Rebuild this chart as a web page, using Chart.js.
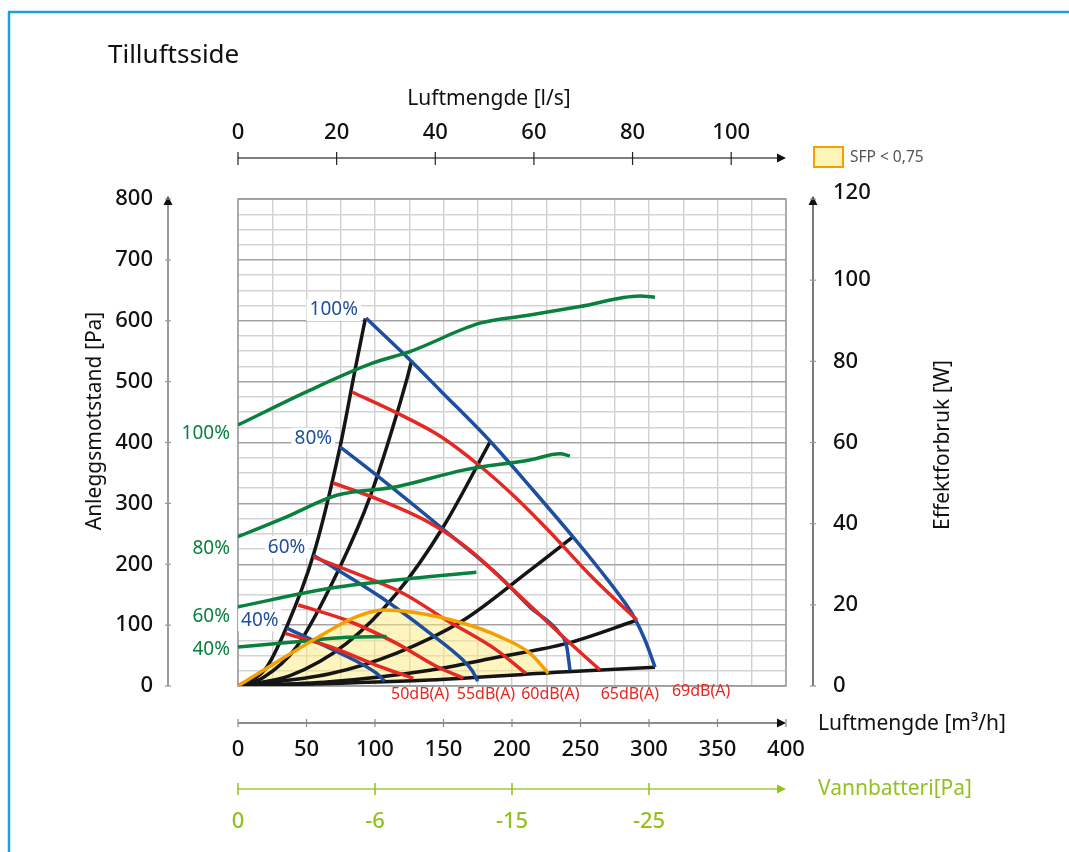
<!DOCTYPE html>
<html>
<head>
<meta charset="utf-8">
<title>Tilluftsside</title>
<script src="https://cdn.jsdelivr.net/npm/chart.js@4.4.0/dist/chart.umd.min.js"></script>
<style>
  html, body { margin: 0; padding: 0; background: #fff; }
  #wrap { width: 1069px; height: 852px; }
</style>
</head>
<body>
<div id="wrap"><canvas id="chart" width="1069" height="852"></canvas></div>
<script>
// ---- data (x = m3/h, y = Pa, power curves in W) ----

// fan curves (blue), by fan speed
const fan100 = [[93.4,604.5],[126.3,534],[147.4,486],[183.9,402.5],[215.3,322],[244.5,245],[264.2,190.6],[278.8,147.8],[289.1,113.3],[297.1,75.6],[304.4,31]];
const fan80  = [[74.5,393],[103.6,342],[147.4,262],[191,180],[213,130],[235,86],[240,64],[242.3,26]];
const fan60  = [[55,215],[103.6,147],[140,87],[164,43],[171,25],[175,8]];
const fan40  = [[35.5,95],[74.5,54],[101,21],[107,8]];

// sound level lines (red)
const db69 = [[83.2,483],[116.1,448.5],[147.4,410.7],[176.6,361.4],[202.2,310.5],[227.7,253],[256.9,182.3],[291.2,108.4]];
const db65 = [[69.3,333.5],[103.6,305.5],[140.1,267.8],[169.3,223.4],[194.9,170.8],[220.4,116.6],[242.3,70.6],[264.2,26.3]];
const db60 = [[55,212],[91.5,180],[120.7,152],[152.3,108],[188.8,59],[210,21]];
const db55 = [[44,133],[79.3,108],[115.8,70],[145,32],[164.5,13]];
const db50 = [[34.3,86.5],[67.2,64.5],[103.6,32],[128,12.6]];

// system curves (black)
const sys1 = [[0,0],[20,28],[35.5,97],[55,215],[74.5,393],[85.4,519],[93,604]];
const sys2 = [[0,0],[18.5,14],[42.8,64.5],[74.5,196],[96.4,311],[123,502],[126.8,535]];
const sys3 = [[0,0],[38,17],[79.3,70],[115.8,152],[150,262],[184,401]];
const sys4 = [[0,0],[67,20],[115.8,54],[164.5,108],[213,190],[244.5,245]];
const sys5 = [[0,0],[67,7],[140,26],[191,48],[240,70],[291,108]];
const sys6 = [[0,0],[140,10],[240,23.5],[304.4,31]];

// power consumption (green, W)
const pow100 = [[0,64.3],[52.6,72.9],[98.5,79.6],[125.5,82.4],[176.6,89.4],[213,91.4],[249.6,93.5],[293.4,96.1],[304.4,95.8]];
const pow80  = [[0,36.8],[35.5,41.7],[72,47],[115.8,49.1],[164.5,53.2],[213,55.7],[235,57.2],[242.3,56.7]];
const pow60  = [[0,19.5],[67,24.1],[115.8,26.1],[174,28]];
const pow40  = [[0,9.6],[42.8,10.9],[79.3,12],[108.5,12.2]];

// SFP < 0,75 area (orange outline)
const sfp = [[0,0],[30.7,42.7],[55,75.6],[86.6,113.8],[106,124.8],[128,121],[164.5,103],[191,81],[213,54],[226.5,21]];

// axis ticks and labels
const paTicks = [0,100,200,300,400,500,600,700,800];
const wTicks = [0,20,40,60,80,100,120];
const m3hTicks = [0,50,100,150,200,250,300,350,400];
const lsTicks = [0,20,40,60,80,100];
const coilAt = [0,100,200,300];
const coilLabels = ['0','-6','-15','-25'];
const fanLabels = ['100%','80%','60%','40%'];
const powLabels = ['100%','80%','60%','40%'];
const dbLabels = ['50dB(A)','55dB(A)','60dB(A)','65dB(A)','69dB(A)'];

const BLUE = '#1d4f9e';
const RED = '#e42823';
const GREEN = '#0a803f';
const BLACK = '#151515';
const ORANGE = '#f4a000';
const LIME = '#93c11f';
const FONT = '"Noto Sans", sans-serif';

function pts(arr) {
    return arr.map(p => ({ x: p[0], y: p[1] }));
}

function curve(data, color, extra) {
    return Object.assign({
        data: pts(data),
        borderColor: color,
        borderWidth: 3.5,
        pointRadius: 0,
        cubicInterpolationMode: 'monotone',
        fill: false,
        borderCapStyle: 'butt'
    }, extra || {});
}

const datasets = [
    curve(sys6, BLACK, { order: 5 }),
    curve(sfp, ORANGE, { order: 1, fill: { target: 0, above: 'rgba(252,234,125,0.5)', below: 'rgba(252,234,125,0.5)' } }),
    curve(sys1, BLACK, { order: 5 }),
    curve(sys2, BLACK, { order: 5 }),
    curve(sys3, BLACK, { order: 5 }),
    curve(sys4, BLACK, { order: 5 }),
    curve(sys5, BLACK, { order: 5 }),
    curve(fan100, BLUE, { order: 4 }),
    curve(fan80, BLUE, { order: 4 }),
    curve(fan60, BLUE, { order: 4 }),
    curve(fan40, BLUE, { order: 4 }),
    curve(db69, RED, { order: 3 }),
    curve(db65, RED, { order: 3 }),
    curve(db60, RED, { order: 3 }),
    curve(db55, RED, { order: 3 }),
    curve(db50, RED, { order: 3 }),
    curve(pow100, GREEN, { order: 2, yAxisID: 'yW' }),
    curve(pow80, GREEN, { order: 2, yAxisID: 'yW' }),
    curve(pow60, GREEN, { order: 2, yAxisID: 'yW' }),
    curve(pow40, GREEN, { order: 2, yAxisID: 'yW' })
];

function text(ctx, str, x, y, font, color, align, baseline) {
    ctx.font = font;
    ctx.fillStyle = color;
    ctx.textAlign = align || 'center';
    ctx.textBaseline = baseline || 'middle';
    ctx.fillText(str, x, y);
}

function arrow(ctx, x, y, dir, color) {
    ctx.fillStyle = color;
    ctx.beginPath();
    if (dir === 'right') {
        ctx.moveTo(x, y); ctx.lineTo(x - 9, y - 4.5); ctx.lineTo(x - 9, y + 4.5);
    } else {
        ctx.moveTo(x, y); ctx.lineTo(x - 4.5, y + 9); ctx.lineTo(x + 4.5, y + 9);
    }
    ctx.closePath();
    ctx.fill();
}

function line(ctx, x1, y1, x2, y2, color, w) {
    ctx.strokeStyle = color;
    ctx.lineWidth = w || 1.3;
    ctx.beginPath();
    ctx.moveTo(x1, y1);
    ctx.lineTo(x2, y2);
    ctx.stroke();
}

// plot frame under the curves
const plotFrame = {
    id: 'plotFrame',
    beforeDatasetsDraw(chart) {
        const a = chart.chartArea, ctx = chart.ctx;
        ctx.save();
        ctx.strokeStyle = '#9a9a9a';
        ctx.lineWidth = 1.5;
        ctx.strokeRect(a.left, a.top, a.right - a.left, a.bottom - a.top);
        ctx.restore();
    }
};

// axes, titles, labels and legend drawn around the plot
const decorations = {
    id: 'decorations',
    afterDraw(chart) {
        const ctx = chart.ctx;
        const sx = chart.scales.x, sy = chart.scales.y, sw = chart.scales.yW, sl = chart.scales.xLs;
        const a = chart.chartArea;
        const tickFont = '500 22px ' + FONT;
        const titleFont = '21px ' + FONT;
        ctx.save();

        // outer blue frame
        line(ctx, 9, 852, 9, 12, '#1a9fe3', 2.5);
        line(ctx, 8, 12, 1069, 12, '#1a9fe3', 2.5);

        text(ctx, 'Tilluftsside', 108, 56, '26px ' + FONT, '#111', 'left');

        // left axis (Pa)
        const lx = 168;
        line(ctx, lx, sy.getPixelForValue(0), lx, a.top + 4, '#777', 1.5);
        arrow(ctx, lx, a.top - 3, 'up', '#111');
        paTicks.forEach(v => {
            const y = sy.getPixelForValue(v);
            line(ctx, lx - 3, y, lx + 3, y, '#999', 1.2);
            text(ctx, String(v), 153, y, tickFont, '#111', 'right');
        });
        ctx.save();
        ctx.translate(95, 421);
        ctx.rotate(-Math.PI / 2);
        text(ctx, 'Anleggsmotstand [Pa]', 0, 0, titleFont, '#111');
        ctx.restore();

        // right axis (W)
        const rx = 813;
        line(ctx, rx, sw.getPixelForValue(0), rx, a.top + 4, '#333', 1.3);
        arrow(ctx, rx, a.top - 3, 'up', '#111');
        wTicks.forEach(v => {
            const y = sw.getPixelForValue(v);
            line(ctx, rx - 3, y, rx + 3, y, '#999', 1.2);
            text(ctx, String(v), 833, y - (v === 120 ? 6 : 0), tickFont, '#111', 'left');
        });
        ctx.save();
        ctx.translate(943, 445);
        ctx.rotate(-Math.PI / 2);
        text(ctx, 'Effektforbruk [W]', 0, 0, titleFont, '#111');
        ctx.restore();

        // bottom axis (m3/h)
        const by = 723;
        line(ctx, a.left, by, a.right - 4, by, '#666', 1.4);
        arrow(ctx, a.right, by, 'right', '#111');
        m3hTicks.forEach(v => {
            const x = sx.getPixelForValue(v);
            line(ctx, x, by - 4, x, by + 4, '#888', 1.2);
            text(ctx, String(v), x, 750, tickFont, '#111');
        });
        text(ctx, 'Luftmengde [m\u00b3/h]', 818, 724, titleFont, '#111', 'left');

        // water coil axis
        const gy = 789;
        line(ctx, a.left, gy, a.right - 4, gy, '#b5d672', 2);
        arrow(ctx, a.right, gy, 'right', LIME);
        coilAt.forEach((v, i) => {
            const x = sx.getPixelForValue(v);
            line(ctx, x, gy - 6, x, gy + 6, LIME, 1.5);
            text(ctx, coilLabels[i], x, 822, tickFont, LIME);
        });
        text(ctx, 'Vannbatteri[Pa]', 818, 789, '21px ' + FONT, LIME, 'left');

        // top axis (l/s)
        const ty = 158;
        line(ctx, a.left, ty, a.right - 4, ty, '#555', 1.4);
        arrow(ctx, a.right, ty, 'right', '#111');
        lsTicks.forEach(v => {
            const x = sl.getPixelForValue(v);
            line(ctx, x, ty - 6, x, ty + 7, '#222', 1.2);
            text(ctx, String(v), x, 133, tickFont, '#111');
        });
        text(ctx, 'Luftmengde [l/s]', 489, 99, titleFont, '#111');

        // legend
        ctx.fillStyle = '#fdf4b8';
        ctx.fillRect(814, 147, 29, 20);
        ctx.strokeStyle = ORANGE;
        ctx.lineWidth = 2;
        ctx.strokeRect(814, 147, 29, 20);
        text(ctx, 'SFP < 0,75', 850, 158, '15.5px ' + FONT, '#555', 'left');

        // fan speed labels at the start of each blue curve
        const labFont = '19px ' + FONT;
        [fan100, fan80, fan60, fan40].forEach((c, i) => {
            const x = sx.getPixelForValue(c[0][0]) - 8;
            const y = sy.getPixelForValue(c[0][1]) - 8;
            ctx.font = labFont;
            const w = ctx.measureText(fanLabels[i]).width;
            ctx.fillStyle = '#fff';
            ctx.fillRect(x - w - 3, y - 11, w + 6, 22);
            text(ctx, fanLabels[i], x, y, labFont, BLUE, 'right');
        });

        // power labels left of the plot
        const powLabelW = [62.3, 33.8, 17, 8.9];
        powLabels.forEach((s, i) => {
            text(ctx, s, 230, sw.getPixelForValue(powLabelW[i]), labFont, GREEN, 'right');
        });

        // sound level labels under the plot
        const dbLabelAt = [133, 181, 228, 286, 338];
        dbLabels.forEach((s, i) => {
            text(ctx, s, sx.getPixelForValue(dbLabelAt[i]), i === 4 ? 691 : 694, '16px ' + FONT, RED);
        });

        ctx.restore();
    }
};

const gridColor = c => (c.tick && c.tick.value % 100 === 0) ? '#a3a3a3' : '#d3d3d3';

new Chart(document.getElementById('chart').getContext('2d'), {
    type: 'line',
    data: { datasets: datasets },
    options: {
        responsive: false,
        animation: false,
        events: [],
        layout: { padding: { left: 238, right: 283, top: 199, bottom: 166 } },
        plugins: {
            legend: { display: false },
            tooltip: { enabled: false },
            filler: { drawTime: 'beforeDatasetsDraw' }
        },
        scales: {
            x: {
                type: 'linear', min: 0, max: 400,
                ticks: { display: false, stepSize: 25, maxTicksLimit: 50 },
                grid: { color: '#cfcfcf', lineWidth: 1.4, drawTicks: false },
                border: { display: false },
                afterFit(s) { s.height = 0; }
            },
            y: {
                type: 'linear', min: 0, max: 800,
                ticks: { display: false, stepSize: 25, maxTicksLimit: 50 },
                grid: { color: gridColor, lineWidth: 1.4, drawTicks: false },
                border: { display: false },
                afterFit(s) { s.width = 0; }
            },
            yW: { type: 'linear', min: 0, max: 120, display: false, position: 'right' },
            xLs: { type: 'linear', axis: 'x', min: 0, max: 400 / 3.6, display: false, position: 'top' }
        }
    },
    plugins: [plotFrame, decorations]
});
</script>
</body>
</html>
